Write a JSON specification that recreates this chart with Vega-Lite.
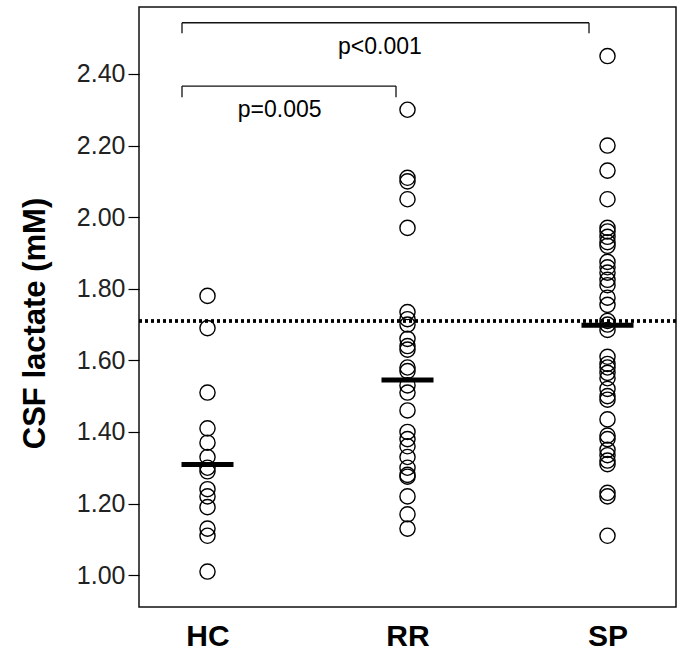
{
  "$schema": "https://vega.github.io/schema/vega-lite/v6.json",
  "width": 537,
  "height": 600,
  "autosize": {"type": "none"},
  "padding": {"left": 139, "top": 7, "right": 6, "bottom": 54},
  "config": {
    "view": {"stroke": "#111", "strokeWidth": 1.5},
    "font": "Liberation Sans"
  },
  "datasets": {
    "points": [
      {"group": "HC", "lactate": 1.78}, {"group": "HC", "lactate": 1.69}, {"group": "HC", "lactate": 1.51},
      {"group": "HC", "lactate": 1.41}, {"group": "HC", "lactate": 1.37}, {"group": "HC", "lactate": 1.33},
      {"group": "HC", "lactate": 1.30}, {"group": "HC", "lactate": 1.29}, {"group": "HC", "lactate": 1.24},
      {"group": "HC", "lactate": 1.22}, {"group": "HC", "lactate": 1.19}, {"group": "HC", "lactate": 1.13},
      {"group": "HC", "lactate": 1.11}, {"group": "HC", "lactate": 1.01},
      {"group": "RR", "lactate": 2.30}, {"group": "RR", "lactate": 2.11}, {"group": "RR", "lactate": 2.10},
      {"group": "RR", "lactate": 2.05}, {"group": "RR", "lactate": 1.97}, {"group": "RR", "lactate": 1.735},
      {"group": "RR", "lactate": 1.715}, {"group": "RR", "lactate": 1.70}, {"group": "RR", "lactate": 1.66},
      {"group": "RR", "lactate": 1.64}, {"group": "RR", "lactate": 1.63}, {"group": "RR", "lactate": 1.58},
      {"group": "RR", "lactate": 1.57}, {"group": "RR", "lactate": 1.53}, {"group": "RR", "lactate": 1.51},
      {"group": "RR", "lactate": 1.46}, {"group": "RR", "lactate": 1.40}, {"group": "RR", "lactate": 1.38},
      {"group": "RR", "lactate": 1.36}, {"group": "RR", "lactate": 1.33}, {"group": "RR", "lactate": 1.30},
      {"group": "RR", "lactate": 1.28}, {"group": "RR", "lactate": 1.275}, {"group": "RR", "lactate": 1.22},
      {"group": "RR", "lactate": 1.17}, {"group": "RR", "lactate": 1.13},
      {"group": "SP", "lactate": 2.45}, {"group": "SP", "lactate": 2.20}, {"group": "SP", "lactate": 2.13},
      {"group": "SP", "lactate": 2.05}, {"group": "SP", "lactate": 1.97}, {"group": "SP", "lactate": 1.96},
      {"group": "SP", "lactate": 1.945}, {"group": "SP", "lactate": 1.93}, {"group": "SP", "lactate": 1.92},
      {"group": "SP", "lactate": 1.875}, {"group": "SP", "lactate": 1.86}, {"group": "SP", "lactate": 1.845},
      {"group": "SP", "lactate": 1.825}, {"group": "SP", "lactate": 1.81}, {"group": "SP", "lactate": 1.775},
      {"group": "SP", "lactate": 1.755}, {"group": "SP", "lactate": 1.71}, {"group": "SP", "lactate": 1.70},
      {"group": "SP", "lactate": 1.685}, {"group": "SP", "lactate": 1.61}, {"group": "SP", "lactate": 1.59},
      {"group": "SP", "lactate": 1.58}, {"group": "SP", "lactate": 1.565}, {"group": "SP", "lactate": 1.55},
      {"group": "SP", "lactate": 1.52}, {"group": "SP", "lactate": 1.50}, {"group": "SP", "lactate": 1.49},
      {"group": "SP", "lactate": 1.435}, {"group": "SP", "lactate": 1.39}, {"group": "SP", "lactate": 1.38},
      {"group": "SP", "lactate": 1.35}, {"group": "SP", "lactate": 1.335}, {"group": "SP", "lactate": 1.32},
      {"group": "SP", "lactate": 1.31}, {"group": "SP", "lactate": 1.23}, {"group": "SP", "lactate": 1.22},
      {"group": "SP", "lactate": 1.11}
    ],
    "medians": [
      {"group": "HC", "median": 1.309},
      {"group": "RR", "median": 1.545},
      {"group": "SP", "median": 1.698}
    ],
    "brackets": [
      {"xa": 0.8725, "xb": 2.9075, "ya": 2.543, "yb": 2.543},
      {"xa": 0.8725, "xb": 0.8725, "ya": 2.543, "yb": 2.514},
      {"xa": 2.9075, "xb": 2.9075, "ya": 2.543, "yb": 2.514},
      {"xa": 0.8725, "xb": 1.9425, "ya": 2.366, "yb": 2.366},
      {"xa": 0.8725, "xb": 0.8725, "ya": 2.366, "yb": 2.335},
      {"xa": 1.9425, "xb": 1.9425, "ya": 2.366, "yb": 2.335}
    ],
    "labels": [
      {"xa": 1.862, "ya": 2.476, "label": "p<0.001"},
      {"xa": 1.361, "ya": 2.299, "label": "p=0.005"}
    ]
  },
  "resolve": {"scale": {"x": "independent"}},
  "layer": [
    {
      "layer": [
        {
          "data": {"name": "points"},
          "mark": {"type": "point", "shape": "circle", "filled": false, "stroke": "#000", "strokeWidth": 1.4, "size": 230, "opacity": 1},
          "encoding": {
            "x": {
              "field": "group", "type": "nominal",
              "scale": {"type": "point", "domain": ["HC", "RR", "SP"], "padding": 0.3425},
              "axis": {"title": null, "domain": false, "ticks": false, "labelAngle": 0, "labelFontSize": 30, "labelFontWeight": "bold", "labelColor": "#000", "labelPadding": 14, "labelFont": "Liberation Sans"}
            },
            "y": {
              "field": "lactate", "type": "quantitative",
              "scale": {"domain": [0.911, 2.587], "nice": false, "zero": false},
              "axis": {
                "title": "CSF lactate (mM)", "titleFontSize": 31, "titleFontWeight": "bold", "titleColor": "#000", "titleFont": "Liberation Sans",
                "titleX": -104, "titleY": 316, "titleAngle": 270, "titleBaseline": "middle", "titleAlign": "center",
                "values": [1.0, 1.2, 1.4, 1.6, 1.8, 2.0, 2.2, 2.4], "format": ".2f",
                "grid": false, "domain": false, "tickSize": 11, "tickColor": "#000", "tickWidth": 1.2,
                "labelFontSize": 25, "labelColor": "#222", "labelPadding": 3, "labelFont": "Liberation Sans"
              }
            }
          }
        },
        {
          "data": {"name": "medians"},
          "mark": {"type": "tick", "color": "#000", "size": 52, "thickness": 5, "opacity": 1},
          "encoding": {
            "x": {"field": "group", "type": "nominal"},
            "y": {"field": "median", "type": "quantitative"}
          }
        },
        {
          "data": {"name": "medians"},
          "mark": {"type": "rule", "color": "#000", "strokeWidth": 3, "strokeDash": [3, 3]},
          "encoding": {"y": {"datum": 1.71}}
        }
      ]
    },
    {
      "layer": [
        {
          "data": {"name": "brackets"},
          "mark": {"type": "rule", "color": "#111", "strokeWidth": 1.3},
          "encoding": {
            "x": {"field": "xa", "type": "quantitative", "scale": {"domain": [0.6575, 3.3425], "nice": false, "zero": false}, "axis": null},
            "x2": {"field": "xb"},
            "y": {"field": "ya", "type": "quantitative"},
            "y2": {"field": "yb"}
          }
        },
        {
          "data": {"name": "labels"},
          "mark": {"type": "text", "fontSize": 23, "color": "#000", "align": "center", "baseline": "middle", "font": "Liberation Sans"},
          "encoding": {
            "x": {"field": "xa", "type": "quantitative"},
            "y": {"field": "ya", "type": "quantitative"},
            "text": {"field": "label"}
          }
        }
      ]
    }
  ]
}
